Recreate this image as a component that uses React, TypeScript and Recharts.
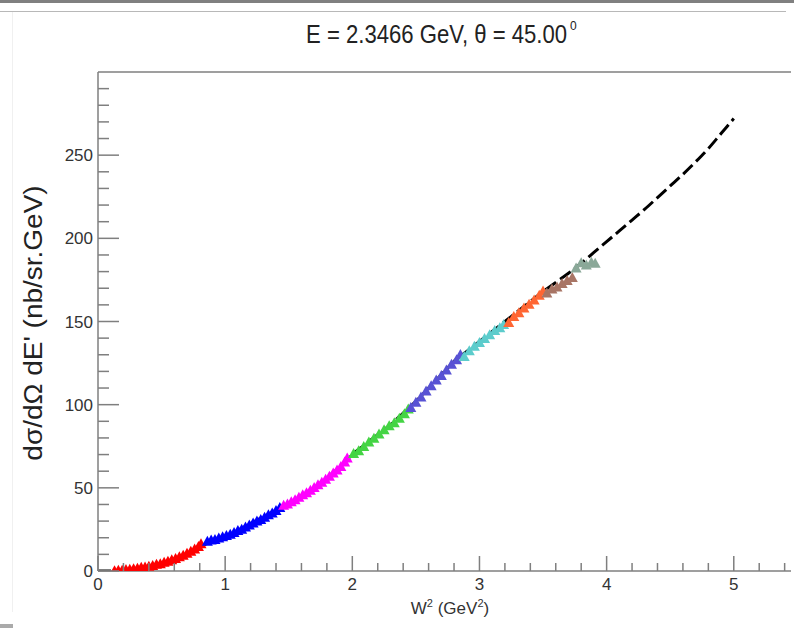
import { ComposedChart, XAxis, YAxis, Scatter, Line, ReferenceLine } from "recharts";

// model curve (dashed), W^2 vs cross section
const curveW2 = [0, 0.1, 0.15, 0.2, 0.3, 0.4, 0.5, 0.6, 0.7, 0.8, 0.9, 1.0, 1.1, 1.2, 1.3, 1.4, 1.5, 1.6, 1.7, 1.8, 1.9, 2.0, 2.1, 2.2, 2.3, 2.4, 2.5, 2.6, 2.7, 2.8, 2.9, 3.0, 3.1, 3.2, 3.3, 3.4, 3.5, 3.6, 3.7, 3.8, 3.9, 4.0, 4.1, 4.2, 4.3, 4.4, 4.5, 4.6, 4.7, 4.8, 4.9, 5.0];
const curveXs = [0, 0, 0.2, 0.6, 1.5, 2.6, 4.6, 7.2, 10.5, 14.5, 17.8, 20.5, 24.5, 28.5, 32.5, 36.5, 40.5, 45, 50, 56, 62.5, 70, 76, 82, 88, 95, 102, 110, 118, 126, 132, 138, 144, 150, 156, 162, 168, 173.5, 179, 185, 191.5, 198, 204.5, 211, 217.5, 224.5, 231.5, 238.5, 246, 254, 263, 272];

// measured points, one array per setting
const redPts = [[0.13, 0.2], [0.16, 0.4], [0.19, 0.5], [0.22, 0.9], [0.25, 1.0], [0.28, 1.4], [0.31, 1.7], [0.34, 2.2], [0.37, 2.4], [0.40, 2.9], [0.43, 3.3], [0.46, 4.0], [0.49, 4.4], [0.52, 5.2], [0.55, 5.8], [0.58, 6.7], [0.61, 7.5], [0.64, 8.5], [0.67, 9.5], [0.70, 10.7], [0.73, 11.8], [0.76, 13.3], [0.79, 14.8], [0.81, 16.4]];
const bluePts = [[0.86, 17.9], [0.89, 18.6], [0.92, 19.0], [0.95, 19.8], [0.98, 20.6], [1.01, 21.4], [1.04, 22.1], [1.07, 23.2], [1.10, 24.3], [1.13, 25.1], [1.16, 26.4], [1.19, 27.6], [1.22, 28.9], [1.25, 30.1], [1.28, 31.0], [1.31, 32.3], [1.34, 33.8], [1.37, 34.9], [1.40, 36.4], [1.43, 38.2]];
const magentaPts = [[1.46, 39.5], [1.49, 40.3], [1.52, 41.6], [1.55, 42.8], [1.58, 44.3], [1.61, 45.8], [1.64, 47.0], [1.67, 48.6], [1.70, 50.2], [1.73, 51.8], [1.76, 53.4], [1.79, 55.2], [1.82, 57.0], [1.85, 58.9], [1.88, 60.7], [1.91, 62.8], [1.94, 65.6], [1.96, 68.0]];
const greenPts = [[2.01, 70.6], [2.05, 72.3], [2.09, 74.8], [2.13, 77.6], [2.17, 79.8], [2.21, 82.4], [2.25, 84.9], [2.29, 87.3], [2.33, 89.2], [2.37, 91.8], [2.41, 94.6], [2.44, 97.4]];
const slatePts = [[2.46, 98.3], [2.50, 101.5], [2.54, 104.6], [2.58, 108.2], [2.62, 111.4], [2.66, 114.9], [2.70, 117.6], [2.74, 120.9], [2.78, 124.3], [2.82, 127.0], [2.85, 130.2]];
const cyanPts = [[2.88, 129.0], [2.92, 132.4], [2.96, 135.1], [3.00, 137.3], [3.04, 139.8], [3.08, 142.0], [3.12, 144.6], [3.16, 146.3], [3.19, 148.2]];
const orangePts = [[3.23, 149.4], [3.27, 153.0], [3.31, 155.2], [3.35, 158.1], [3.39, 160.4], [3.43, 163.0], [3.47, 165.8], [3.50, 168.4]];
const brownPts = [[3.53, 167.2], [3.57, 169.6], [3.61, 170.8], [3.65, 172.9], [3.69, 174.6], [3.73, 176.5]];
const grayPts = [[3.76, 182.2], [3.80, 185.3], [3.84, 184.0], [3.88, 185.6], [3.91, 185.0]];

const xTicks = [0, 0.2, 0.4, 0.6, 0.8, 1, 1.2, 1.4, 1.6, 1.8, 2, 2.2, 2.4, 2.6, 2.8, 3, 3.2, 3.4, 3.6, 3.8, 4, 4.2, 4.4, 4.6, 4.8, 5, 5.2, 5.4];
const yTicks = [0, 10, 20, 30, 40, 50, 60, 70, 80, 90, 100, 110, 120, 130, 140, 150, 160, 170, 180, 190, 200, 210, 220, 230, 240, 250, 260, 270, 280, 290];

const curve = curveW2.map((x, i) => ({ x, y: curveXs[i] }));
const toObj = (pts: number[][]) => pts.map(([x, y]) => ({ x, y }));

const series = [
  { name: "red", pts: redPts, color: "#ff0000" },
  { name: "blue", pts: bluePts, color: "#0000ff" },
  { name: "magenta", pts: magentaPts, color: "#ff00ff" },
  { name: "green", pts: greenPts, color: "#44d444" },
  { name: "slate", pts: slatePts, color: "#5852d4" },
  { name: "cyan", pts: cyanPts, color: "#5ccccc" },
  { name: "orange", pts: orangePts, color: "#ff6633" },
  { name: "brown", pts: brownPts, color: "#a87565" },
  { name: "gray", pts: grayPts, color: "#8aa898" },
];

const AXIS = "#7f7f7f";
const FONT = "'Liberation Sans', Arial, sans-serif";

const Tri = (p: any) => {
  const { cx, cy, fill } = p;
  if (cx == null || cy == null) return null;
  return <polygon points={`${cx},${cy - 5.5} ${cx - 5.5},${cy + 4.5} ${cx + 5.5},${cy + 4.5}`} fill={fill} />;
};

const XTick = (p: any) => {
  const v = p.payload.value;
  const major = Math.abs(v - Math.round(v)) < 1e-6;
  return (
    <g>
      <line x1={p.x} x2={p.x} y1={p.y} y2={p.y - (major ? 15 : 8)} stroke={AXIS} strokeWidth={1.5} />
      {major && (
        <text x={p.x} y={p.y + 19} textAnchor="middle" fontSize={17} fontFamily={FONT} fill="#333">
          {Math.round(v)}
        </text>
      )}
    </g>
  );
};

const YTick = (p: any) => {
  const v = p.payload.value;
  const major = v % 50 === 0;
  return (
    <g>
      <line x1={p.x} x2={p.x + (major ? 21 : 11)} y1={p.y} y2={p.y} stroke={AXIS} strokeWidth={1.5} />
      {major && (
        <text x={p.x - 5} y={p.y + 6} textAnchor="end" fontSize={17} fontFamily={FONT} fill="#333">
          {v}
        </text>
      )}
    </g>
  );
};

export default function App() {
  return (
    <div style={{ position: "absolute", left: 0, top: 0, width: 794, height: 630, background: "#fff" }}>
      {/* window edges */}
      <div style={{ position: "absolute", left: 0, top: 0, width: 794, height: 3, background: "#808080" }} />
      <div style={{ position: "absolute", left: 0, top: 11, width: 786, height: 1, background: "#b8b8b8" }} />
      <div style={{ position: "absolute", left: 12, top: 12, width: 1, height: 600, background: "#f0f0f0" }} />
      <div style={{ position: "absolute", left: 0, top: 624, width: 13, height: 4, background: "#aaaaaa" }} />

      <ComposedChart width={794} height={630} margin={{ top: 72, right: 3, bottom: 19, left: 38 }}>
        <XAxis
          type="number"
          dataKey="x"
          domain={[0, 5.45]}
          ticks={xTicks}
          interval={0}
          allowDataOverflow
          height={40}
          tickSize={0}
          tickMargin={0}
          tick={<XTick />}
          axisLine={{ stroke: AXIS, strokeWidth: 1.5 }}
        />
        <YAxis
          type="number"
          dataKey="y"
          domain={[0, 300]}
          ticks={yTicks}
          interval={0}
          allowDataOverflow
          width={60}
          tickSize={0}
          tickMargin={0}
          tick={<YTick />}
          axisLine={{ stroke: AXIS, strokeWidth: 1.5 }}
        />
        <ReferenceLine y={300} stroke={AXIS} strokeWidth={1.5} />
        <Line
          data={curve}
          dataKey="y"
          type="monotone"
          stroke="#000"
          strokeWidth={3}
          strokeDasharray="13 5"
          dot={false}
          activeDot={false}
          isAnimationActive={false}
        />
        {series.map((s) => (
          <Scatter
            key={s.name}
            name={s.name}
            data={toObj(s.pts)}
            fill={s.color}
            shape={<Tri />}
            isAnimationActive={false}
          />
        ))}
      </ComposedChart>

      <svg width={794} height={630} style={{ position: "absolute", left: 0, top: 0, pointerEvents: "none" }}>
        <text x={0} y={0} transform="translate(306,43) scale(0.885,1)" fontSize={25} fontFamily={FONT} fill="#222">
          E = 2.3466 GeV, θ = 45.00
        </text>
        <text x={570} y={30} fontSize={12} fontFamily={FONT} fill="#222">0</text>
        <text
          x={0}
          y={0}
          transform="translate(42,323) rotate(-90) scale(1.12,1)"
          textAnchor="middle"
          fontSize={25}
          fontFamily={FONT}
          fill="#222"
        >
          dσ/dΩ dE' (nb/sr.GeV)
        </text>
        <text x={450} y={614} textAnchor="middle" fontSize={17} fontFamily={FONT} fill="#333">
          W<tspan fontSize={11} dy={-7}>2</tspan>
          <tspan dy={7}> (GeV</tspan>
          <tspan fontSize={11} dy={-7}>2</tspan>
          <tspan dy={7}>)</tspan>
        </text>
      </svg>
    </div>
  );
}
